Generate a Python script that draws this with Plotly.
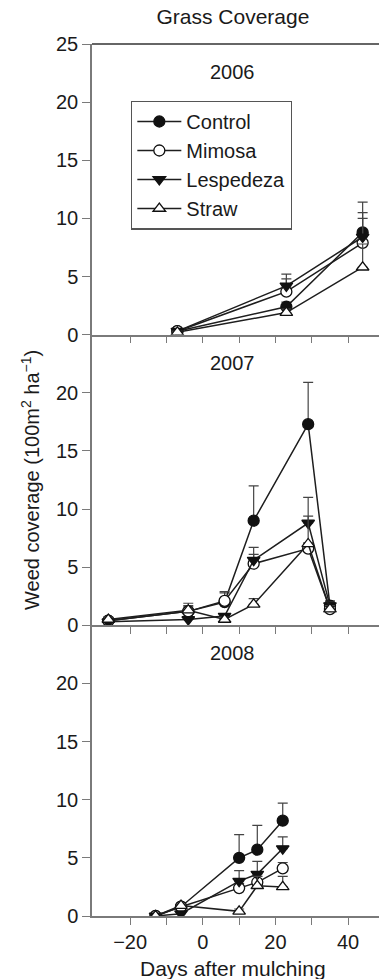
import plotly.graph_objects as go

# ---------------- data ----------------
series_names = ["Control", "Mimosa", "Lespedeza", "Straw"]
years = ["2006", "2007", "2008"]

days_2006 = [-7, 23, 44]
control_2006 = [0.3, 2.4, 8.8]
control_2006_err = [0.1, 0.4, 2.6]
mimosa_2006 = [0.3, 3.7, 7.9]
mimosa_2006_err = [0.1, 1.1, 2.1]
lespedeza_2006 = [0.3, 4.2, 8.4]
lespedeza_2006_err = [0.1, 1.0, 2.1]
straw_2006 = [0.2, 1.9, 5.8]
straw_2006_err = [0.1, 0.3, 2.0]

days_2007 = [-26, -4, 6, 14, 29, 35]
control_2007 = [0.4, 1.2, 2.0, 9.0, 17.3, 1.7]
control_2007_err = [0.2, 0.5, 0.8, 3.0, 3.6, 0.4]
mimosa_2007 = [0.4, 1.2, 2.1, 5.3, 6.6, 1.4]
mimosa_2007_err = [0.2, 0.4, 0.8, 0.8, 0.5, 0.3]
lespedeza_2007 = [0.3, 0.5, 0.8, 5.6, 8.8, 1.7]
lespedeza_2007_err = [0.1, 0.2, 0.2, 1.1, 2.2, 0.3]
straw_2007 = [0.5, 1.3, 0.5, 1.8, 7.0, 1.4]
straw_2007_err = [0.2, 0.6, 0.2, 0.5, 2.4, 0.3]

days_2008 = [-13, -6, 10, 15, 22]
control_2008 = [0.0, 0.8, 5.0, 5.7, 8.2]
control_2008_err = [0.0, 0.1, 2.0, 2.1, 1.5]
mimosa_2008 = [0.0, 0.8, 2.4, 2.9, 4.1]
mimosa_2008_err = [0.0, 0.1, 0.4, 0.5, 0.5]
lespedeza_2008 = [0.0, 0.2, 3.0, 3.6, 5.8]
lespedeza_2008_err = [0.0, 0.1, 0.9, 1.1, 1.0]
straw_2008 = [0.0, 0.9, 0.4, 2.6, 2.5]
straw_2008_err = [0.0, 0.1, 0.2, 0.8, 0.9]

x_tickvals = [-20, -10, 0, 10, 20, 30, 40]
x_ticktext = ["\u221220", "", "0", "", "20", "", "40"]
y_tickvals_top = [0, 5, 10, 15, 20, 25]
y_tickvals = [0, 5, 10, 15, 20]

# ---------------- styles ----------------
FONT = "Liberation Sans, Arial, sans-serif"
TXT = "#1a1a1a"
AX = "#7a7a7a"
LINE = "#1e1e1e"
styles = {
    "Control": dict(symbol="circle", color="#111111"),
    "Mimosa": dict(symbol="circle", color="white"),
    "Lespedeza": dict(symbol="triangle-down", color="#111111"),
    "Straw": dict(symbol="triangle-up", color="white"),
}

panels = [
    (days_2006, [(control_2006, control_2006_err), (mimosa_2006, mimosa_2006_err),
                 (lespedeza_2006, lespedeza_2006_err), (straw_2006, straw_2006_err)]),
    (days_2007, [(control_2007, control_2007_err), (mimosa_2007, mimosa_2007_err),
                 (lespedeza_2007, lespedeza_2007_err), (straw_2007, straw_2007_err)]),
    (days_2008, [(control_2008, control_2008_err), (mimosa_2008, mimosa_2008_err),
                 (lespedeza_2008, lespedeza_2008_err), (straw_2008, straw_2008_err)]),
]

fig = go.Figure()
axis_ids = ["", "2", "3"]
for p, (days, data) in enumerate(panels):
    for name, (vals, errs) in zip(series_names, data):
        st = styles[name]
        fig.add_trace(go.Scatter(
            x=days, y=vals, name=name, mode="lines+markers",
            xaxis="x" + axis_ids[p], yaxis="y" + axis_ids[p],
            showlegend=(p == 0), legendgroup=name,
            line=dict(color=LINE, width=1.5),
            marker=dict(symbol=st["symbol"], size=11, color=st["color"],
                        line=dict(color="#111111", width=1.3)),
            error_y=dict(type="data", symmetric=False, array=errs,
                         arrayminus=[0] * len(errs), color="#444444",
                         thickness=1.2, width=5),
        ))

domains = [[2 / 3, 1.0], [1 / 3, 2 / 3], [0.0, 1 / 3]]
xrange_ = [-30.5, 48.5]

layout = dict(
    width=379, height=979,
    margin=dict(l=92, r=0, t=44, b=63),
    paper_bgcolor="white", plot_bgcolor="white",
    font=dict(family=FONT, size=20, color=TXT),
    showlegend=True,
    legend=dict(x=0.136, y=0.935, xanchor="left", yanchor="top",
                bordercolor="#555555", borderwidth=1.3, bgcolor="white",
                font=dict(family=FONT, size=20, color=TXT),
                tracegroupgap=0, itemwidth=44),
    title=dict(text="Grass Coverage", x=0.491, xref="paper", xanchor="center",
               y=1 - 17 / 979, yanchor="middle",
               font=dict(family=FONT, size=21, color=TXT)),
)

for p in range(3):
    sfx = axis_ids[p]
    xa = dict(domain=[0, 1], anchor="y" + sfx, range=xrange_,
              showgrid=False, zeroline=False, showline=True,
              linecolor=AX, linewidth=1.5,
              ticks="outside", ticklen=7, tickwidth=1.2, tickcolor=AX,
              tickvals=x_tickvals, ticktext=x_ticktext,
              showticklabels=(p == 2),
              tickfont=dict(family=FONT, size=20, color=TXT))
    ya = dict(domain=domains[p], anchor="x" + sfx, range=[0, 25],
              showgrid=False, zeroline=False, showline=True,
              linecolor=AX, linewidth=1.5,
              ticks="outside", ticklen=8, tickwidth=1.2, tickcolor=AX,
              tickvals=y_tickvals_top if p == 0 else y_tickvals,
              tickfont=dict(family=FONT, size=20, color=TXT))
    layout["xaxis" + sfx] = xa
    layout["yaxis" + sfx] = ya
    # right-side inward ticks
    rid = str(4 + p)
    layout["yaxis" + rid] = dict(overlaying="y" + sfx, side="right", anchor="x" + sfx,
                                 range=[0, 25], showgrid=False, zeroline=False,
                                 showline=False, ticks="inside", ticklen=6,
                                 tickwidth=1.2, tickcolor=AX,
                                 tickvals=[5, 10, 15, 20], showticklabels=False)

year_y = [1 - 28 / 872, 2 / 3 - 28 / 872, 1 / 3 - 28 / 872]
annotations = []
for yr, yy in zip(years, year_y):
    annotations.append(dict(text=yr, x=0.491, y=yy, xref="paper", yref="paper",
                            xanchor="center", yanchor="middle", showarrow=False,
                            font=dict(family=FONT, size=20, color=TXT)))
annotations.append(dict(text="Weed coverage (100m<sup>2</sup> ha<sup>\u22121</sup>)",
                        x=(30 - 92) / 287, y=0.5, xref="paper", yref="paper",
                        xanchor="center", yanchor="middle", textangle=-90,
                        showarrow=False, font=dict(family=FONT, size=20, color=TXT)))
annotations.append(dict(text="Days after mulching", x=0.491, y=-(968 - 916) / 872,
                        xref="paper", yref="paper", xanchor="center", yanchor="middle",
                        showarrow=False, font=dict(family=FONT, size=21, color=TXT)))
layout["annotations"] = annotations
layout["shapes"] = [dict(type="line", xref="paper", yref="paper", x0=0, x1=1, y0=1, y1=1,
                         line=dict(color="#333333", width=1.5))]

fig.update_layout(**layout)
fig.write_html("out.html", config={"displayModeBar": False},
               post_script="document.body.style.margin='0';document.body.style.overflow='hidden';")
